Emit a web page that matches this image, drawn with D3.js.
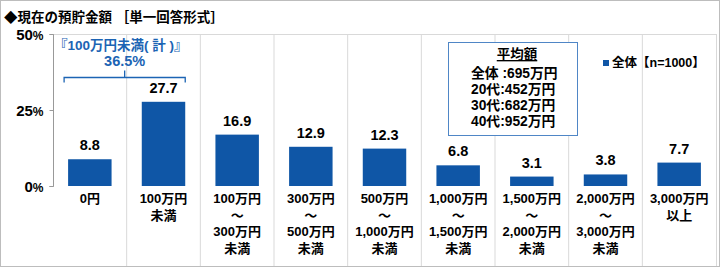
<!DOCTYPE html>
<html><head><meta charset="utf-8">
<script src="https://cdn.jsdelivr.net/npm/d3@7"></script>
<style>
html,body{margin:0;padding:0;background:#fff;}
svg{display:block;font-family:"Liberation Sans","Noto Sans CJK JP",sans-serif;}
</style></head><body>
<svg id="c" width="720" height="267"></svg>
<script>
const categories = [
  ["0円"],
  ["100万円","未満"],
  ["100万円","～","300万円","未満"],
  ["300万円","～","500万円","未満"],
  ["500万円","～","1,000万円","未満"],
  ["1,000万円","～","1,500万円","未満"],
  ["1,500万円","～","2,000万円","未満"],
  ["2,000万円","～","3,000万円","未満"],
  ["3,000万円","以上"]
];
const values = [8.8, 27.7, 16.9, 12.9, 12.3, 6.8, 3.1, 3.8, 7.7];
const yTicks = [0, 25, 50];
const seriesName = "全体【n=1000】";
const title = "◆現在の預貯金額 ［単一回答形式］";
const bracketLabel = "『100万円未満( 計 )』";
const bracketValue = "36.5%";
const avgTitle = "平均額";
const avgLines = ["全体 :695万円","20代:452万円","30代:682万円","40代:952万円"];

(function(){
const svg = d3.select("#c");
const W = 720, H = 267;
const blue = "#0f56a6";
const textBlue = "#1c64b4";
const grid = "#d9d9d9";

svg.append("rect").attr("x",0.5).attr("y",0.5).attr("width",W-1).attr("height",H-1)
  .attr("fill","#fff").attr("stroke","#bdbdbd");

svg.append("text").attr("x",4).attr("y",22).attr("font-size",13.5).attr("font-weight","bold")
  .attr("fill","#000").text(title);

const pL = 53, pR = 716, pT = 34, pB = 186;
const x = d3.scaleBand().domain(d3.range(categories.length)).range([pL,pR]).paddingInner(0.41).paddingOuter(0.205);
const y = d3.scaleLinear().domain([0,50]).range([pB,pT]);

// dividers
const bounds = d3.range(1,categories.length).map(i => pL + i*((pR-pL)/categories.length));
svg.selectAll("line.div").data(bounds).join("line")
  .attr("x1",d=>d).attr("x2",d=>d).attr("y1",pT).attr("y2",H-1)
  .attr("stroke",grid).attr("stroke-width",1);
svg.append("line").attr("x1",pL).attr("x2",pR).attr("y1",pT+0.5).attr("y2",pT+0.5).attr("stroke",grid);
svg.append("line").attr("x1",pR+0.5).attr("x2",pR+0.5).attr("y1",pT).attr("y2",H-1).attr("stroke",grid);

// y axis
const yAxis = d3.axisLeft(y).tickValues(yTicks).tickSize(4).tickFormat(d=>d);
const ga = svg.append("g").attr("transform",`translate(${pL+0.5},0)`).call(yAxis);
ga.select(".domain").attr("stroke","#999").attr("d",`M-4,${y(50)+0.5}H0V${pB+0.5}H-4`);
ga.selectAll(".tick line").attr("stroke","#999");
ga.selectAll(".tick text").remove();
ga.selectAll(".tick").each(function(d){
  const t = d3.select(this).append("text").attr("x",-10).attr("dy","0.35em")
    .attr("text-anchor","end").attr("fill","#000").attr("font-weight","bold").attr("font-size",15)
    .attr("font-family","'Liberation Sans',sans-serif");
  t.append("tspan").text(d);
  t.append("tspan").attr("font-size",12).text("%");
});

// bars
svg.selectAll("rect.bar").data(values).join("rect")
  .attr("x",(d,i)=>x(i)).attr("width",x.bandwidth())
  .attr("y",d=>y(d)).attr("height",d=>pB-y(d)).attr("fill",blue);

// value labels
svg.selectAll("text.val").data(values).join("text")
  .attr("x",(d,i)=>x(i)+x.bandwidth()/2).attr("y",d=>y(d)-9)
  .attr("text-anchor","middle").attr("font-size",14.5).attr("font-weight","bold").attr("fill","#000")
  .text(d=>d.toFixed(1));

// category labels
categories.forEach((lines,i)=>{
  const t = svg.append("text").attr("text-anchor","middle").attr("font-size",13).attr("font-weight","bold").attr("fill","#000");
  lines.forEach((ln,j)=>{
    t.append("tspan").attr("x",x(i)+x.bandwidth()/2).attr("y",203+j*16.7).text(ln);
  });
});

// bracket annotation
const bx1 = x(0)-4, bx2 = x(1)+x.bandwidth(), by = 77.5;
const bmid = (bx1+bx2)/2;
svg.append("path").attr("d",`M${bx1},${by+5}V${by}H${bx2}V${by+5}M${bmid},${by}V${by-7}`)
  .attr("fill","none").attr("stroke",textBlue).attr("stroke-width",1.3);
svg.append("text").attr("x",bmid-4).attr("y",50).attr("text-anchor","middle").attr("font-size",13.5)
  .attr("font-weight","bold").attr("fill",textBlue).text(bracketLabel);
svg.append("text").attr("x",bmid).attr("y",66).attr("text-anchor","middle").attr("font-size",14.5)
  .attr("font-weight","bold").attr("fill",textBlue).text(bracketValue);

// average box
svg.append("rect").attr("x",448.5).attr("y",42.5).attr("width",129).attr("height",93)
  .attr("fill","#fff").attr("stroke","#4f86c6").attr("stroke-width",1);
svg.append("text").attr("x",517).attr("y",59).attr("text-anchor","middle")
  .attr("font-size",13.5).attr("font-weight","bold").attr("fill","#000").attr("text-decoration","underline").text(avgTitle);
avgLines.forEach((ln,j)=>{
  svg.append("text").attr("x",471).attr("y",78+j*16).attr("font-size",13.8).attr("font-weight","bold")
    .attr("fill","#000").text(ln);
});

// legend
svg.append("rect").attr("x",603).attr("y",60).attr("width",6).attr("height",6).attr("fill",blue);
svg.append("text").attr("x",612).attr("y",67).attr("font-size",12.5).attr("font-weight","bold").attr("fill","#000").text(seriesName);
})();
</script>
</body></html>
